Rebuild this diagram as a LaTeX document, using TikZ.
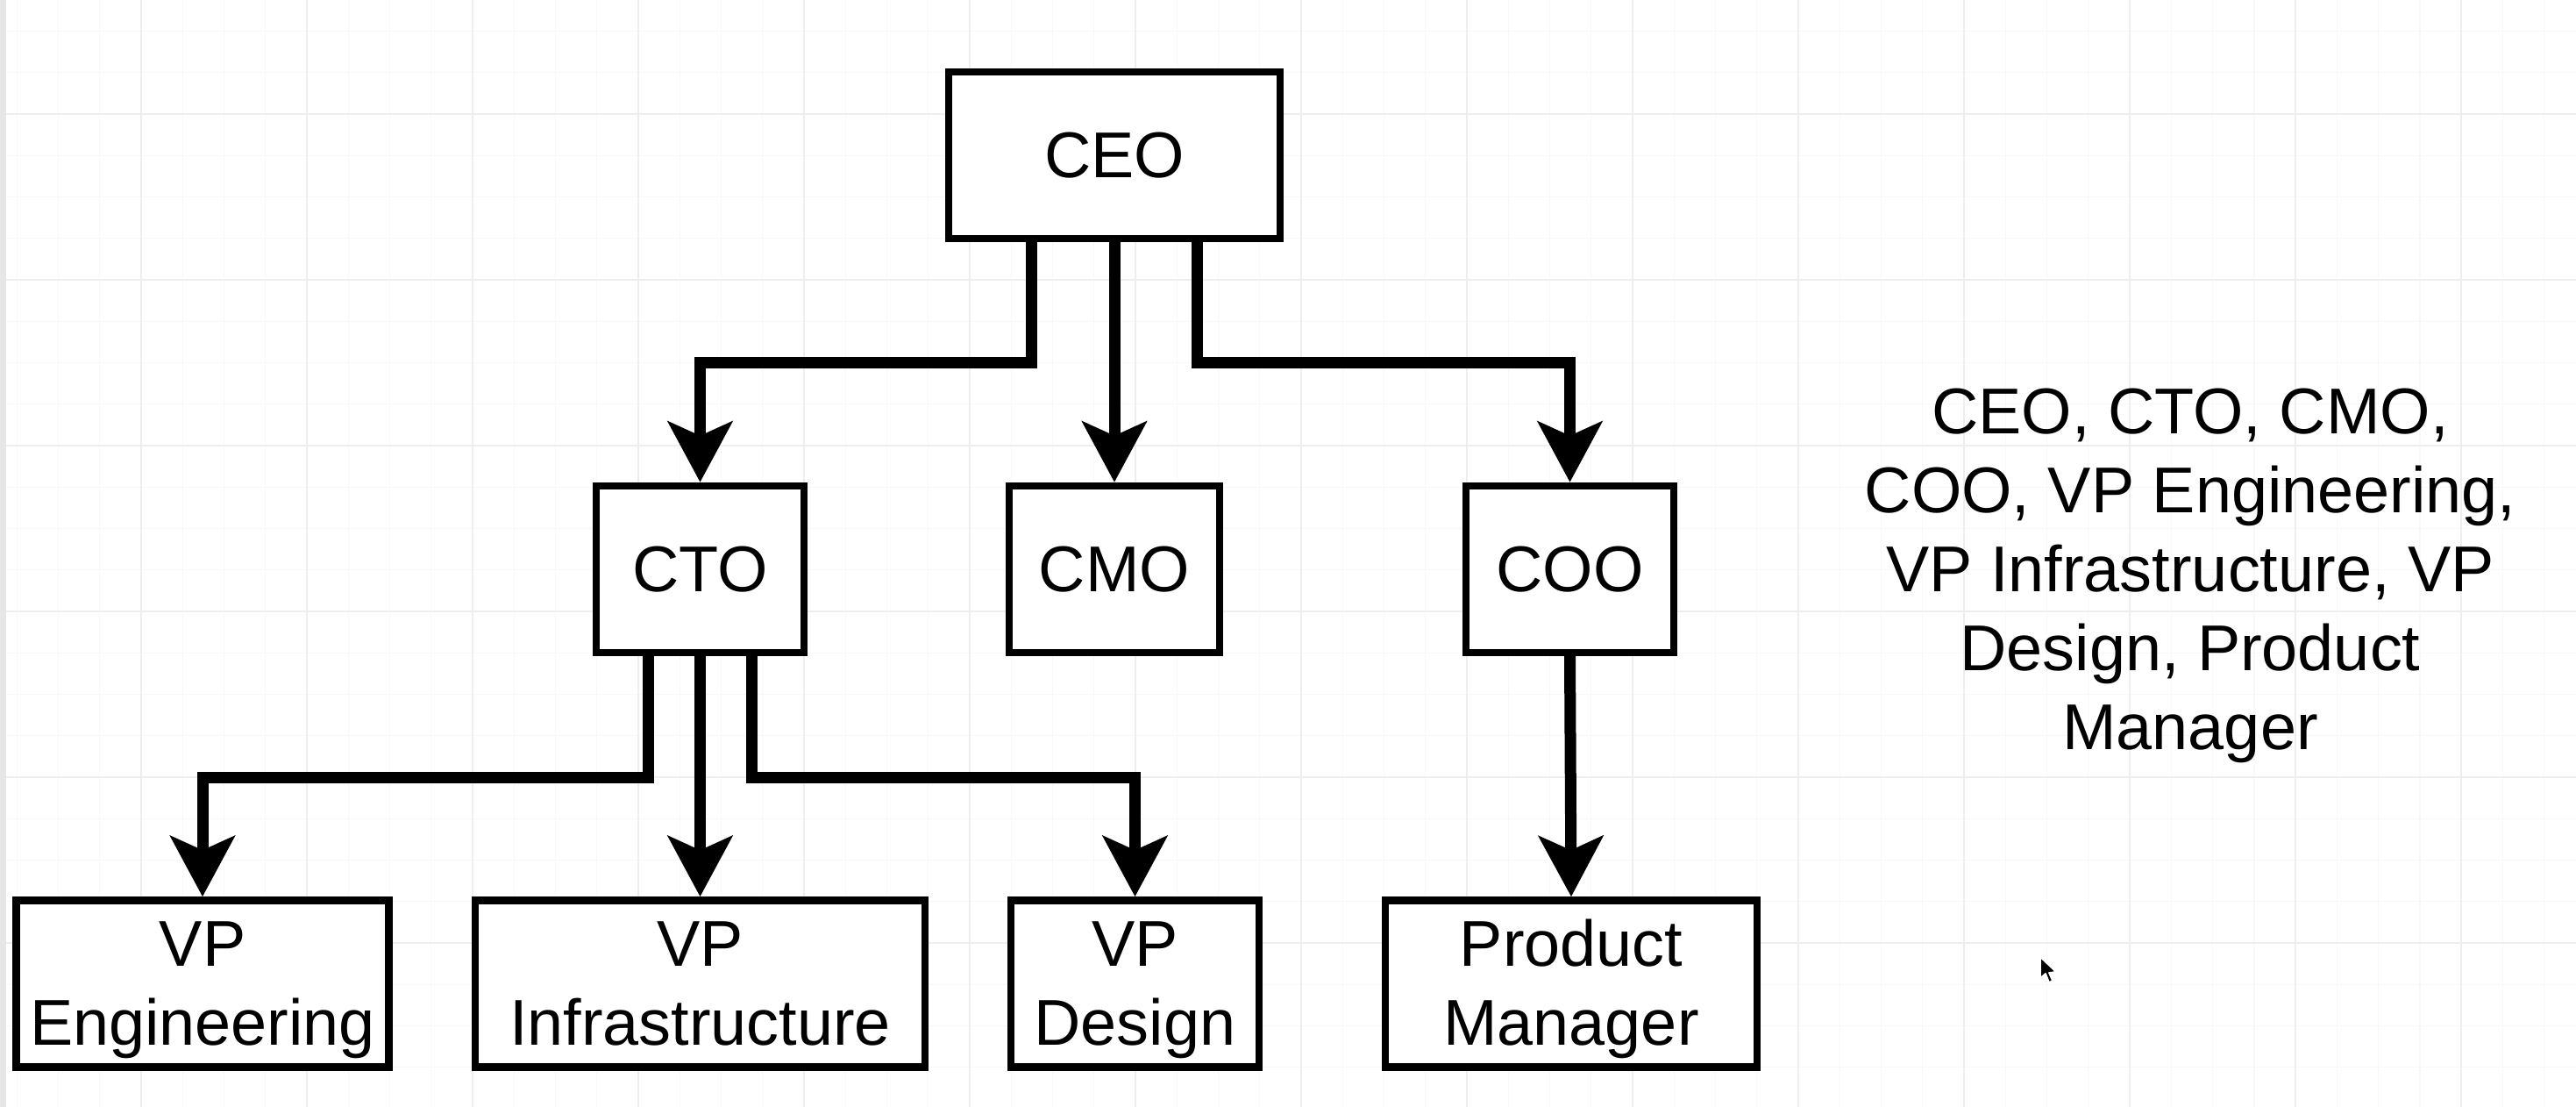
\documentclass[tikz,border=0pt]{standalone}
\usepackage{fontspec}
\setmainfont{Liberation Sans}
\usetikzlibrary{arrows.meta}

\definecolor{gridminor}{HTML}{F8F8F8}
\definecolor{gridmajor}{HTML}{EEEEEE}
\definecolor{pagestrip}{HTML}{E6E6E6}
\newcommand\rolestrut{\rule[-4.5pt]{0pt}{23.5pt}}

\tikzset{
  role/.style={draw=black, line width=2.4pt, fill=white, inner sep=0pt,
    minimum height=1.90cm, align=center,
    font=\fontsize{21pt}{25.6pt}\selectfont},
  link/.style={line width=3.7pt,
    -{Stealth[length=6.9mm, width=7.3mm, inset=1.6mm]}},
  note/.style={align=center, font=\fontsize{21pt}{25.6pt}\selectfont}
}

\begin{document}
\begin{tikzpicture}
             \useasboundingbox (0,0) rectangle (29.38,12.62);
             \fill[white] (0,0) rectangle (29.38,12.62);

             \foreach \gx in {0,...,61}
               \draw[gridminor, line width=0.4pt] (0.1925+0.4725*\gx, 0) -- ++(0, 12.62);
             \foreach \gy in {0,...,26}
               \draw[gridminor, line width=0.4pt] (0, 12.265-0.4725*\gy) -- ++(29.38, 0);
             \foreach \gx in {0,...,14}
               \draw[gridmajor, line width=0.6pt] (1.61+1.89*\gx, 0) -- ++(0, 12.62);
             \foreach \gy in {0,...,6}
               \draw[gridmajor, line width=0.6pt] (0, 11.32-1.89*\gy) -- ++(29.38, 0);
             \fill[pagestrip] (0,0) rectangle (0.07,12.62);

             \node[role, minimum width=3.78cm] (ceo) at (12.71, 10.85) {CEO\rolestrut};

             \node[role, minimum width=2.37cm] (cto) at (7.985, 6.13) {CTO\rolestrut};
             \node[role, minimum width=2.40cm] (cmo) at (12.71, 6.13) {CMO\rolestrut};
             \node[role, minimum width=2.37cm] (coo) at (17.905, 6.13) {COO\rolestrut};

             \node[role, minimum width=4.25cm] (vpeng) at (2.31, 1.405) {VP\rolestrut\\Engineering\rolestrut};
             \node[role, minimum width=5.13cm] (vpinf) at (7.985, 1.405) {VP\rolestrut\\Infrastructure\rolestrut};
             \node[role, minimum width=2.83cm] (vpdes) at (12.945, 1.405) {VP\rolestrut\\Design\rolestrut};
             \node[role, minimum width=4.24cm] (pm) at (17.92, 1.405) {Product\rolestrut\\Manager\rolestrut};

             \draw[link] ([xshift=-9.45mm]ceo.south) -- ++(0,-1.37) -| (cto.north);
             \draw[link] (ceo.south) -- (cmo.north);
             \draw[link] ([xshift=9.45mm]ceo.south) -- ++(0,-1.37) -| (coo.north);

             \draw[link] ([xshift=-5.9mm]cto.south) -- ++(0,-1.38) -| (vpeng.north);
             \draw[link] (cto.south) -- (vpinf.north);
             \draw[link] ([xshift=5.9mm]cto.south) -- ++(0,-1.38) -| (vpdes.north);
             \draw[link] (coo.south) -- (pm.north);

             \node[note] (list) at (24.98, 6.06)
               {CEO, CTO, CMO,\\COO, VP Engineering,\\VP Infrastructure, VP\\Design, Product\\Manager};

             \filldraw[fill=black, draw=white, line width=0.5pt, line join=round]
               (23.27,1.71) -- ++(0,-0.24) -- ++(0.06,0.05) -- ++(0.04,-0.10)
               -- ++(0.04,0.02) -- ++(-0.04,0.09) -- ++(0.08,0.01) -- cycle;
             \end{tikzpicture}
\end{document}
